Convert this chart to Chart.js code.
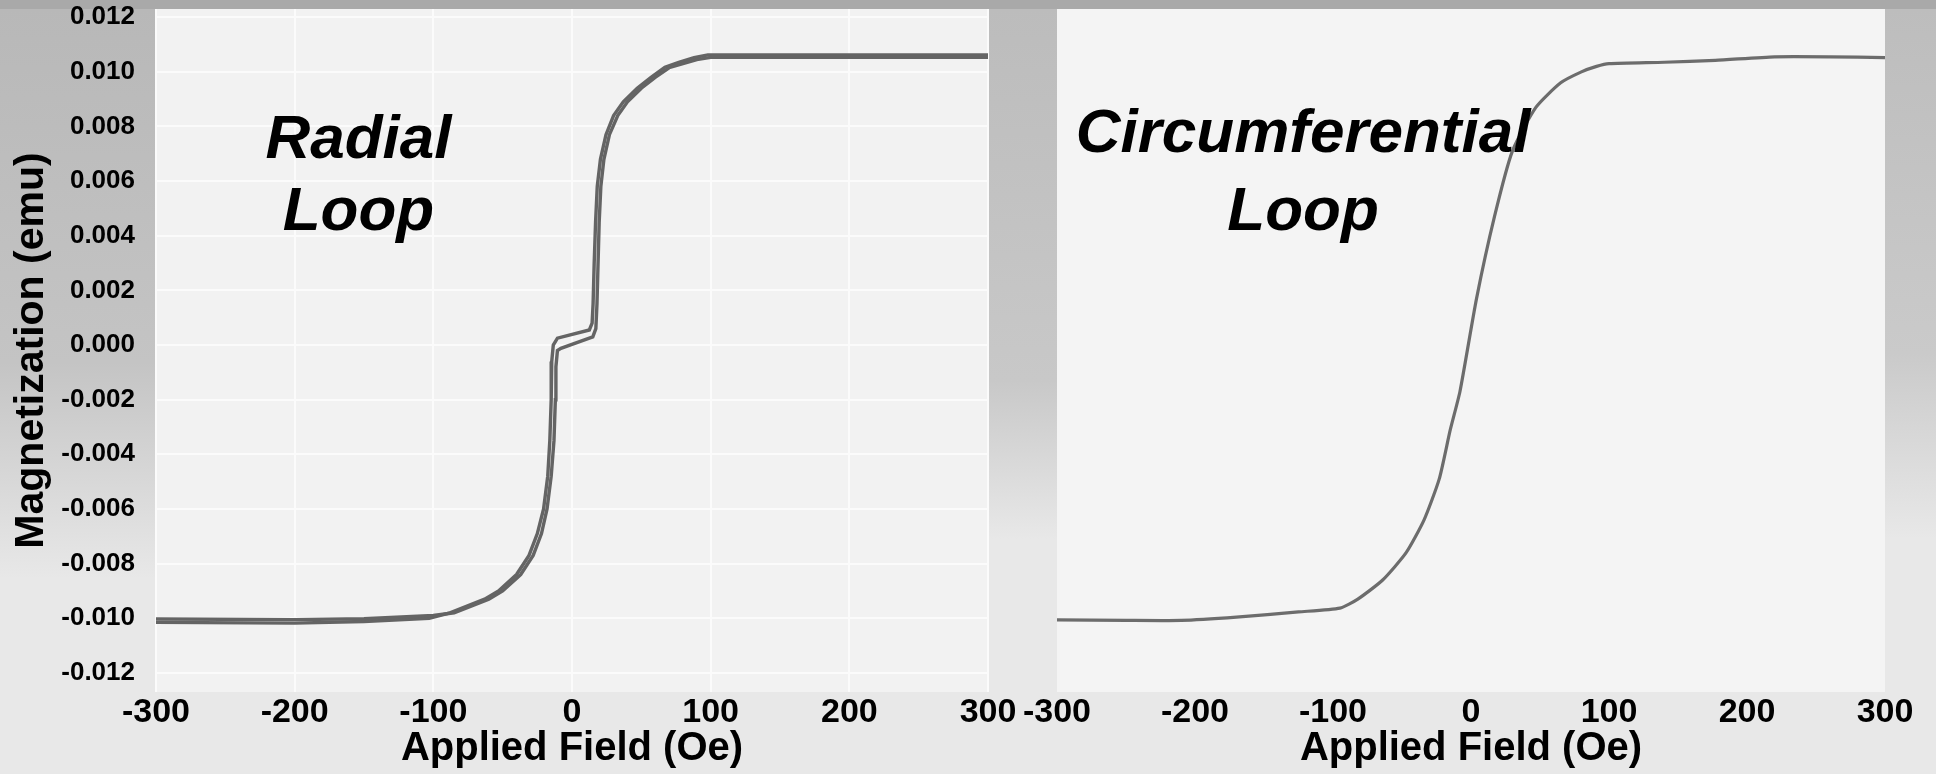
<!DOCTYPE html>
<html>
<head>
<meta charset="utf-8">
<script src="https://cdn.jsdelivr.net/npm/chart.js@4.4.1/dist/chart.umd.min.js"></script>
<style>
html,body{margin:0;padding:0;}
body{width:1936px;height:774px;overflow:hidden;background:#e8e8e8;position:relative;}
.band{position:absolute;}
#topband{left:0;top:0;width:1936px;height:10px;background:#a9a9a9;}
#leftband{left:0;top:9px;width:157px;height:570px;background:linear-gradient(#b8b8b8 0%,#c4c4c4 62%,#e8e8e8 100%);}
#gapband{left:987px;top:9px;width:71px;height:530px;background:linear-gradient(#bcbcbc 0%,#c8c8c8 70%,#e8e8e8 100%);}
#rightband{left:1884px;top:9px;width:52px;height:530px;background:linear-gradient(#bdbdbd 0%,#cacaca 65%,#e8e8e8 100%);}
canvas{position:absolute;left:0;top:0;}
</style>
</head>
<body>
<div class="band" id="topband"></div>
<div class="band" id="leftband"></div>
<div class="band" id="gapband"></div>
<div class="band" id="rightband"></div>
<canvas id="c1" width="1936" height="774" style="width:1936px;height:774px"></canvas>
<canvas id="c2" width="1936" height="774" style="width:1936px;height:774px"></canvas>
<script>
// ---- tick values / labels ----
const xTicks = [-300, -200, -100, 0, 100, 200, 300];
const xTickLabels = ['-300', '-200', '-100', '0', '100', '200', '300'];
const yTicks = [-0.012, -0.010, -0.008, -0.006, -0.004, -0.002, 0, 0.002, 0.004, 0.006, 0.008, 0.010, 0.012];
const yTickLabels = ['-0.012', '-0.010', '-0.008', '-0.006', '-0.004', '-0.002', '0.000', '0.002', '0.004', '0.006', '0.008', '0.010', '0.012'];

// ---- Radial loop: descending branch (+300 -> -300) ----
const radialDescH = [300, 200, 100, 98, 88, 77, 67, 57, 47, 37, 30, 24.5, 20.5, 18.2, 17, 16, 15.2, 14.5, 12.5, -10.5, -13.5, -14.6, -15, -16, -17.5, -20.5, -25, -31, -40, -53, -63, -73, -88, -103, -150, -200, -300];
const radialDescM = [0.01062, 0.01062, 0.01062, 0.01062, 0.01052, 0.01035, 0.01017, 0.0098, 0.0094, 0.0089, 0.0084, 0.0077, 0.0068, 0.0058, 0.0045, 0.0030, 0.0015, 0.0008, 0.00055, 0.00025, 0.0, -0.0006, -0.0020, -0.0035, -0.0048, -0.0060, -0.0069, -0.0077, -0.0084, -0.0090, -0.0093, -0.0095, -0.0098, -0.0100, -0.01012, -0.01018, -0.01015];

// ---- Radial loop: ascending branch (-300 -> +300) ----
const radialAscH = [-300, -200, -150, -100, -85, -70, -60, -50, -37, -28, -22, -18, -15, -13, -12, -11.6, -10.5, -8, 15, 17.2, 18, 18.8, 19.6, 20.8, 23, 27, 33, 40, 50, 60, 70, 80, 90, 100, 200, 300];
const radialAscM = [-0.01003, -0.01005, -0.01002, -0.0099, -0.0098, -0.0095, -0.0093, -0.0090, -0.0084, -0.0077, -0.0069, -0.0060, -0.0048, -0.0035, -0.0020, -0.0008, -0.0002, -0.00012, 0.0003, 0.0006, 0.0015, 0.0030, 0.0045, 0.0058, 0.0068, 0.0077, 0.0084, 0.0089, 0.0094, 0.0098, 0.01015, 0.0103, 0.01045, 0.01053, 0.01053, 0.01053];

// ---- Circumferential loop ----
const circH = [-300, -250, -210, -170, -125, -95, -82, -64, -47, -34, -23, -15, -8, 4, 17, 30, 47, 65, 80, 91, 100, 140, 177, 220, 260, 300];
const circM = [-0.01006, -0.01008, -0.01008, -0.00996, -0.00977, -0.00963, -0.0093, -0.0086, -0.0076, -0.0064, -0.0049, -0.0031, -0.0017, 0.0017, 0.0047, 0.0071, 0.0087, 0.0096, 0.0100, 0.0102, 0.0103, 0.01035, 0.01042, 0.01055, 0.01055, 0.01052];

// ---- in-plot labels (text, anchor in data coords: H, baseline M per line) ----
const radialLabel = ['Radial', 'Loop'];
const radialLabelAt = [-154, 0.00684, 0.00421];
const circLabel = ['Circumferential', 'Loop'];
const circLabelAt = [-121.7, 0.00706, 0.00421];

const xTitle = 'Applied Field (Oe)';
const yTitle = 'Magnetization (emu)';

const FONT = '"Liberation Sans", Arial, Helvetica, sans-serif';
Chart.defaults.font.family = FONT;
Chart.defaults.color = '#000';

const toPts = (H, M) => H.map((h, i) => ({x: h, y: M[i]}));

const plotBg = {
  id: 'plotBg',
  beforeDraw(chart, args, opts) {
    const {ctx, chartArea: a} = chart;
    ctx.save();
    ctx.fillStyle = opts.color || '#f3f3f3';
    ctx.fillRect(a.left, a.top, a.right - a.left, a.bottom - a.top);
    ctx.restore();
  }
};
const loopLabel = {
  id: 'loopLabel',
  afterDatasetsDraw(chart, args, opts) {
    const {ctx} = chart;
    const xs = chart.scales.x, ys = chart.scales.y;
    ctx.save();
    ctx.font = 'italic bold 62px ' + FONT;
    ctx.fillStyle = '#000';
    ctx.textAlign = 'center';
    ctx.textBaseline = 'alphabetic';
    const cx = xs.getPixelForValue(opts.at[0]);
    opts.lines.forEach((t, i) => ctx.fillText(t, cx, ys.getPixelForValue(opts.at[i + 1])));
    ctx.restore();
  }
};

function xScale(showGrid) {
  return {
    type: 'linear', min: -300, max: 300,
    afterBuildTicks: s => { s.ticks = xTicks.map(v => ({value: v})); },
    afterFit: s => { s.height = 82; },
    ticks: {
      callback: (v) => xTickLabels[xTicks.indexOf(v)],
      font: {size: 34, weight: 'bold'}, padding: 0, maxRotation: 0, autoSkip: false, color: '#000'
    },
    grid: {display: showGrid, color: '#fbfbfb', lineWidth: 2, drawTicks: false},
    border: {display: false},
    title: {display: true, text: xTitle, font: {size: 40, weight: 'bold'}, padding: {top: 0, bottom: 1}, color: '#000'}
  };
}

const yRange = {min: -0.0127, max: 0.0123};

new Chart(document.getElementById('c1'), {
  type: 'scatter',
  data: {
    datasets: [
      {data: toPts(radialAscH, radialAscM), showLine: true, borderColor: '#646464', borderWidth: 3.4, pointRadius: 0, tension: 0, clip: false},
      {data: toPts(radialDescH, radialDescM), showLine: true, borderColor: '#646464', borderWidth: 3.4, pointRadius: 0, tension: 0, clip: false}
    ]
  },
  options: {
    responsive: false, animation: false, devicePixelRatio: 1,
    layout: {padding: {left: 0, top: 9, right: 948, bottom: 0}},
    plugins: {legend: {display: false}, tooltip: {enabled: false}, plotBg: {color: '#f2f2f2'}, loopLabel: {lines: radialLabel, at: radialLabelAt}},
    scales: {
      x: xScale(true),
      y: {
        type: 'linear', min: yRange.min, max: yRange.max,
        afterBuildTicks: s => { s.ticks = yTicks.map(v => ({value: v})); },
        afterFit: s => { s.width = 156; s.paddingTop = 0; s.paddingBottom = 0; },
        ticks: {callback: (v) => yTickLabels[yTicks.findIndex(t => Math.abs(t - v) < 1e-9)], font: {size: 26, weight: 'bold'}, padding: 0, color: '#000'},
        grid: {display: true, color: '#fbfbfb', lineWidth: 2, drawTicks: true, tickLength: 21, tickColor: 'rgba(0,0,0,0)'},
        border: {display: false},
        title: {display: true, text: yTitle, font: {size: 41, weight: 'bold'}, padding: {top: 7, bottom: 0}, color: '#000'}
      }
    }
  },
  plugins: [plotBg, loopLabel]
});

new Chart(document.getElementById('c2'), {
  type: 'scatter',
  data: {
    datasets: [
      {data: toPts(circH, circM), showLine: true, borderColor: '#6c6c6c', borderWidth: 3.2, pointRadius: 0, tension: 0.2, clip: false}
    ]
  },
  options: {
    responsive: false, animation: false, devicePixelRatio: 1,
    layout: {padding: {left: 1057, top: 9, right: 51, bottom: 0}},
    plugins: {legend: {display: false}, tooltip: {enabled: false}, plotBg: {color: '#f4f4f4'}, loopLabel: {lines: circLabel, at: circLabelAt}},
    scales: {
      x: xScale(false),
      y: {type: 'linear', min: yRange.min, max: yRange.max, display: false}
    }
  },
  plugins: [plotBg, loopLabel]
});
</script>
</body>
</html>
